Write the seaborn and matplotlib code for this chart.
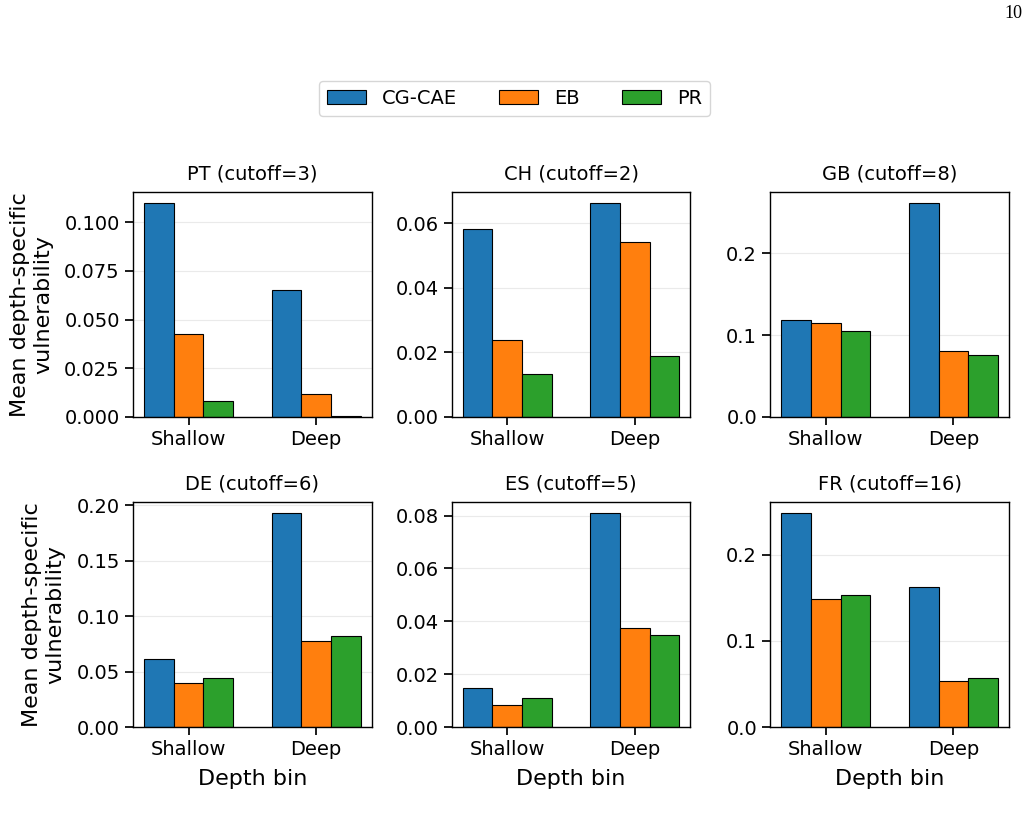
import pandas as pd
import matplotlib.pyplot as plt
import seaborn as sns
from matplotlib.patches import Patch

# values (mean depth-specific vulnerability)
countries = ['PT', 'CH', 'GB', 'DE', 'ES', 'FR']
cutoffs = [3, 2, 8, 6, 5, 16]
depth_bins = ['Shallow', 'Deep']
methods = ['CG-CAE', 'EB', 'PR']

cgcae_shallow = [0.110, 0.0581, 0.118, 0.0616, 0.0147, 0.2486]
cgcae_deep = [0.0652, 0.0664, 0.2617, 0.1934, 0.0811, 0.1629]
eb_shallow = [0.0428, 0.0239, 0.1144, 0.0396, 0.0084, 0.1483]
eb_deep = [0.0119, 0.0541, 0.0807, 0.0775, 0.0375, 0.0537]
pr_shallow = [0.0082, 0.0133, 0.1047, 0.0441, 0.0108, 0.1533]
pr_deep = [0.0007, 0.0190, 0.0755, 0.0823, 0.0349, 0.0564]

colors = ['#1f77b4', '#ff7f0e', '#2ca02c']

# build long table
rows = []
series = {
    ('CG-CAE', 'Shallow'): cgcae_shallow, ('CG-CAE', 'Deep'): cgcae_deep,
    ('EB', 'Shallow'): eb_shallow, ('EB', 'Deep'): eb_deep,
    ('PR', 'Shallow'): pr_shallow, ('PR', 'Deep'): pr_deep,
}
for (m, d), vals in series.items():
    for c, v in zip(countries, vals):
        rows.append([c, m, d, v])
df = pd.DataFrame(rows, columns=['country', 'method', 'depth', 'value'])

sns.set_theme(style="ticks")
plt.rcParams['font.family'] = ['DejaVu Sans']
plt.rcParams['axes.edgecolor'] = 'black'
plt.rcParams['xtick.color'] = 'black'
plt.rcParams['ytick.color'] = 'black'
plt.rcParams['text.color'] = 'black'
plt.rcParams['axes.labelcolor'] = 'black'

fig, axes = plt.subplots(2, 3, figsize=(10.28, 8.19), dpi=100)
fig.subplots_adjust(left=0.1294, right=0.9815, top=0.7656, bottom=0.1123,
                    wspace=0.335, hspace=0.378)

for i, (country, cut) in enumerate(zip(countries, cutoffs)):
    ax = axes.flat[i]
    sub = df[df['country'] == country]
    sns.barplot(data=sub, x='depth', y='value', hue='method',
                order=depth_bins, hue_order=methods, palette=colors,
                width=0.7, edgecolor='black', linewidth=0.8, saturation=1,
                legend=False, ax=ax)
    # matplotlib-like 5% margins around the bars
    ax.set_xlim(-0.435, 1.435)
    ax.set_title(f'{country} (cutoff={cut})', fontsize=14, pad=9)
    ax.grid(axis='y', color='#dddddd', alpha=0.6, linewidth=0.8)
    ax.set_axisbelow(True)
    ax.tick_params(labelsize=14)
    for sp in ax.spines.values():
        sp.set_visible(True)
        sp.set_linewidth(1.0)
    ax.set_xlabel('Depth bin' if i >= 3 else '', fontsize=16, labelpad=7)
    ax.set_ylabel('Mean depth-specific\nvulnerability' if i % 3 == 0 else '',
                  fontsize=16, labelpad=8)

handles = [Patch(facecolor=c, edgecolor='black', linewidth=0.8) for c in colors]
fig.legend(handles, methods, loc='center', bbox_to_anchor=(0.5005, 0.880),
           ncol=3, fontsize=14, frameon=True, columnspacing=2.2,
           handlelength=2.0, handleheight=0.8, edgecolor='#cccccc', fancybox=True)

# page number of the source document
fig.text(0.9855, 0.984, '10', fontsize=13, family='Liberation Serif',
         ha='center', va='center')

fig.savefig('out.png', dpi=100)
